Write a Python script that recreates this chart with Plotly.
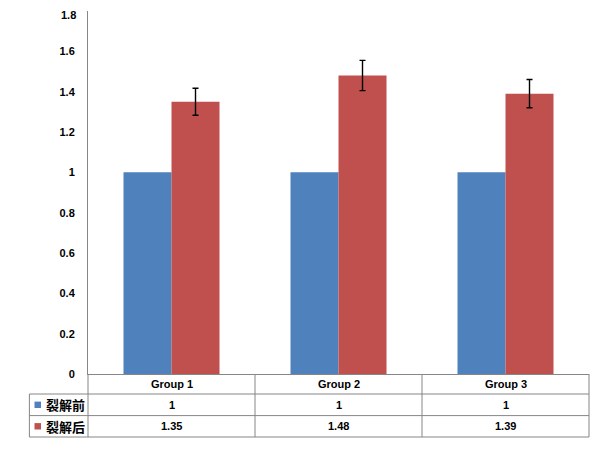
import plotly.graph_objects as go

# ---- data ----
categories = ["Group 1", "Group 2", "Group 3"]
series_names = ["裂解前", "裂解后"]
before_vals = [1, 1, 1]
after_vals = [1.35, 1.48, 1.39]
after_err = [0.067, 0.075, 0.07]
y_ticks = [0, 0.2, 0.4, 0.6, 0.8, 1, 1.2, 1.4, 1.6, 1.8]

colors = ["#4F81BD", "#C0504D"]
grid_col = "#868686"

# page has an 8px body margin; size the figure to fill the rest of the window
W, H = 597, 445
ml, mr, mt, mb = 80, 16, 3, 79
plot_w = W - ml - mr
plot_h = H - mt - mb

def py(dy):  # pixel offset below plot bottom -> paper y
    return -dy / plot_h

def px(dx):  # pixel offset from plot left -> paper x
    return dx / plot_w

fig = go.Figure()
fig.add_trace(go.Bar(x=categories, y=before_vals, name=series_names[0],
                     marker=dict(color=colors[0], line=dict(width=0))))
fig.add_trace(go.Bar(x=categories, y=after_vals, name=series_names[1],
                     marker=dict(color=colors[1], line=dict(width=0)),
                     error_y=dict(type="data", array=after_err, color="black",
                                  thickness=1.4, width=3)))

n = len(categories)
row_h = [20, 21.6, 21.4]
row_edges = [0]
for h in row_h:
    row_edges.append(row_edges[-1] + h)
left_col = px(-58.6)

shapes = []
for i in range(n + 1):
    shapes.append(dict(type="line", xref="paper", yref="paper",
                       x0=i / n, x1=i / n, y0=0, y1=py(row_edges[-1]),
                       line=dict(color=grid_col, width=1)))
shapes.append(dict(type="line", xref="paper", yref="paper",
                   x0=left_col, x1=left_col, y0=py(row_edges[1]), y1=py(row_edges[-1]),
                   line=dict(color=grid_col, width=1)))
for e in row_edges[1:]:
    shapes.append(dict(type="line", xref="paper", yref="paper",
                       x0=left_col, x1=1, y0=py(e), y1=py(e),
                       line=dict(color=grid_col, width=1)))

annotations = []
font_num = dict(family="Liberation Sans", size=11, color="black", weight="bold")
font_cn = dict(family="Noto Sans CJK SC", size=13, color="black", weight="bold")
for i, c in enumerate(categories):
    annotations.append(dict(x=c, xref="x", y=py((row_edges[0] + row_edges[1]) / 2), yref="paper",
                            text=c, showarrow=False, xanchor="center", yanchor="middle", font=font_num))
series_vals = [before_vals, after_vals]
for r, (name, vals) in enumerate(zip(series_names, series_vals)):
    yc = py((row_edges[r + 1] + row_edges[r + 2]) / 2)
    for c, v in zip(categories, vals):
        annotations.append(dict(x=c, xref="x", y=yc, yref="paper", text=f"{v:g}",
                                showarrow=False, xanchor="center", yanchor="middle", font=font_num))
    shapes.append(dict(type="rect", xref="paper", yref="paper",
                       x0=px(-53.5), x1=px(-47), y0=yc - 3.2 / plot_h, y1=yc + 3.2 / plot_h,
                       fillcolor=colors[r], line=dict(width=0)))
    annotations.append(dict(x=px(-44.5), xref="paper", y=yc, yref="paper", text=name,
                            showarrow=False, xanchor="left", yanchor="middle", font=font_cn))

# top tick label sits at the very edge of the figure; draw it nudged down so it is not cut
tick_text = [f"{t:g}" for t in y_ticks]
annotations.append(dict(x=px(-10), xref="paper", y=y_ticks[-1], yref="y", text=tick_text[-1],
                        showarrow=False, xanchor="right", yanchor="middle", yshift=-4,
                        font=font_num))
tick_text[-1] = ""

fig.update_layout(
    width=W, height=H,
    margin=dict(l=ml, r=mr, t=mt, b=mb, autoexpand=False),
    paper_bgcolor="white", plot_bgcolor="white",
    barmode="group", bargap=0.425, bargroupgap=0,
    showlegend=False,
    shapes=shapes, annotations=annotations,
    xaxis=dict(showticklabels=False, showline=True, linecolor=grid_col, linewidth=1,
               showgrid=False, zeroline=False, ticks="", automargin=False),
    yaxis=dict(range=[0, 1.8], tickvals=y_ticks, ticktext=tick_text,
               showline=True, linecolor=grid_col, linewidth=1, showgrid=False,
               zeroline=False, ticks="", ticklabelstandoff=10, ticklabeloverflow="allow",
               automargin=False,
               tickfont=dict(family="Liberation Sans", size=11, color="black", weight="bold")),
)

fig.write_html("out.html")
